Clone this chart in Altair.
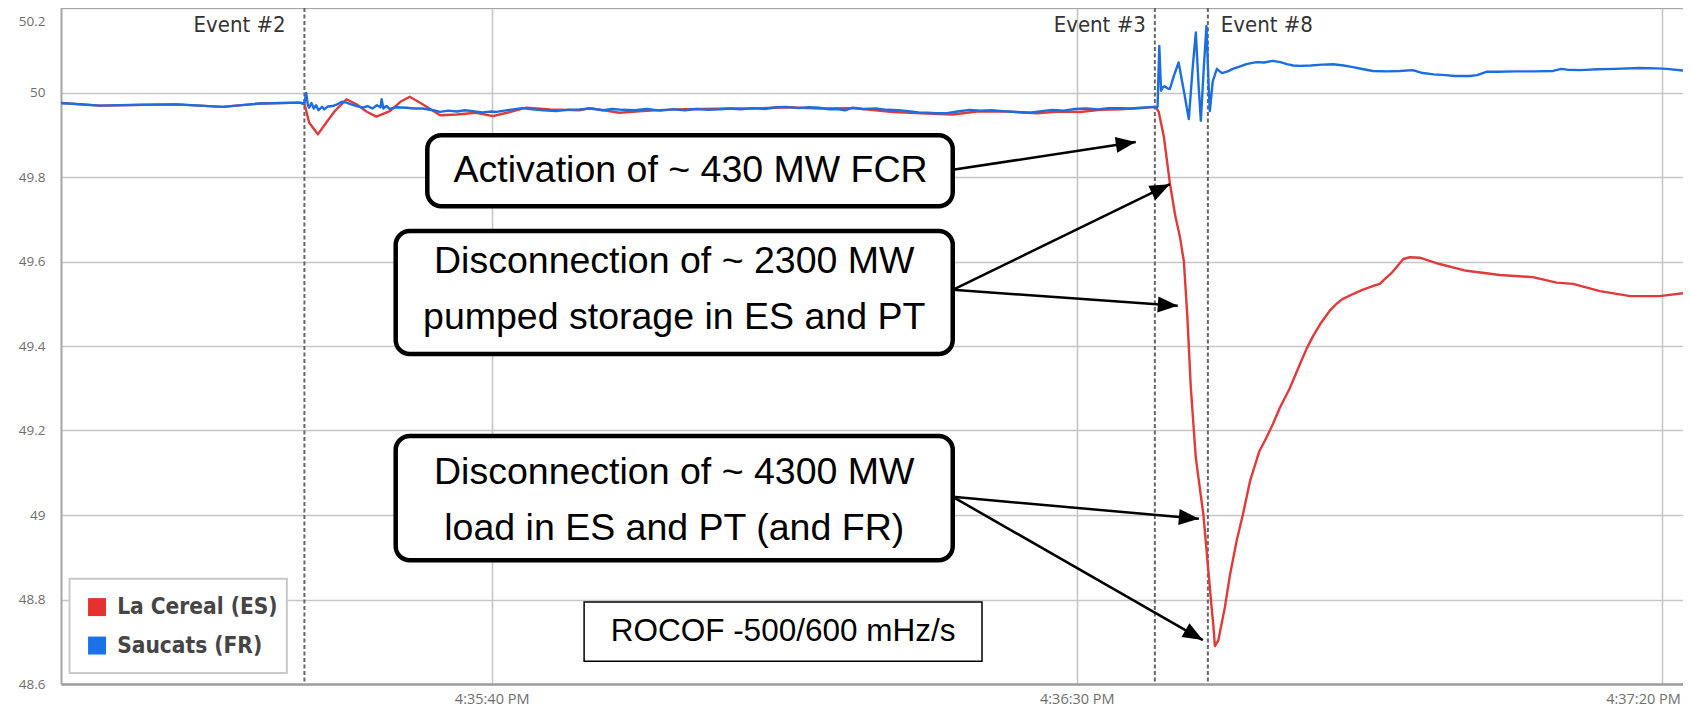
import math
import altair as alt
import pandas as pd

# ---------------- data (time = seconds after 4:35:00 PM, frequency in Hz) ----------------
SERIES = ["La Cereal (ES)", "Saucats (FR)"]
COLORS = ["#e03a3a", "#1c6ee0"]
LEGEND_COLORS = ["#e5322f", "#1a72e6"]

red_t = [3.2, 6.5, 13.1, 17.0, 20.2, 23.6, 24.0, 24.4, 25.15, 25.87, 26.6, 27.6, 28.45, 29.3,
         30.15, 31.3, 32.2, 33.0, 34.1, 35.6, 37.0, 38.7, 40.1, 41.3, 42.96, 45.0, 47.5, 48.4,
         50.9, 52.9, 55.5, 60.35, 62.3, 65.2, 68.0, 70.85, 74.3, 77.2, 79.4, 81.5, 84.0, 86.6,
         88.5, 90.26, 92.0, 93.7, 95.5, 96.75, 97.0, 97.44, 97.95, 98.4, 98.8, 99.15, 99.44,
         99.74, 100.17, 100.82, 101.28, 101.58, 101.65, 101.8, 102.08, 102.65, 103.1, 103.65,
         104.2, 104.8, 105.6, 106.2, 106.75, 107.35, 108.2, 109.06, 109.66, 110.2, 110.8, 111.6,
         112.2, 112.7, 113.6, 114.4, 115.3, 115.9, 116.15, 116.9, 117.6, 117.9, 118.46, 119.3,
         121.0, 123.3, 126.15, 128.97, 131.0, 132.4, 134.7, 137.3, 139.8, 141.8]
red_f = [49.975, 49.969, 49.972, 49.966, 49.974, 49.976, 49.974, 49.929, 49.901, 49.929, 49.956,
         49.984, 49.972, 49.955, 49.943, 49.956, 49.978, 49.990, 49.972, 49.946, 49.948, 49.952,
         49.944, 49.952, 49.964, 49.960, 49.958, 49.963, 49.952, 49.956, 49.960, 49.962, 49.962,
         49.965, 49.962, 49.963, 49.954, 49.950, 49.948, 49.955, 49.955, 49.951, 49.955, 49.954,
         49.959, 49.960, 49.963, 49.966, 49.954, 49.895, 49.786, 49.710, 49.660, 49.600, 49.473,
         49.303, 49.135, 49.000, 48.856, 48.763, 48.745, 48.690, 48.702, 48.781, 48.860, 48.938,
         49.002, 49.080, 49.151, 49.183, 49.215, 49.254, 49.300, 49.357, 49.395, 49.424, 49.452,
         49.483, 49.500, 49.511, 49.523, 49.533, 49.542, 49.547, 49.554, 49.573, 49.596, 49.606,
         49.610, 49.609, 49.594, 49.578, 49.568, 49.563, 49.550, 49.547, 49.530, 49.518, 49.518,
         49.525]

blue_t = [3.2, 6.5, 10.0, 13.1, 17.0, 20.2, 23.6, 23.9, 24.0, 24.15, 24.3, 24.4, 24.6, 24.8, 25.0,
          25.2, 25.5, 25.7, 26.0, 26.4, 26.8, 27.2, 27.6, 28.0, 28.45, 29.0, 29.4, 29.8, 30.2, 30.5,
          30.6, 30.75, 31.0, 31.3, 31.8, 32.7, 33.4, 34.1, 35.0, 35.6, 36.3, 37.0, 37.7, 38.4, 39.2,
          40.0, 40.4, 41.5, 42.6, 43.5, 44.4, 45.5, 46.5, 47.5, 48.4, 49.5, 50.3, 51.2, 52.2, 53.3,
          54.4, 55.5, 56.5, 57.5, 58.5, 59.5, 60.4, 61.3, 62.3, 63.3, 64.3, 65.2, 66.2, 67.1, 68.0,
          68.8, 69.5, 70.2, 70.85, 71.8, 72.8, 73.8, 74.8, 75.8, 76.5, 77.2, 78.0, 78.9, 79.8, 80.85,
          81.8, 82.7, 83.7, 84.8, 86.0, 87.0, 87.9, 88.9, 89.8, 90.85, 91.8, 92.7, 93.7, 94.6, 95.5,
          96.5, 96.75, 96.9, 97.05, 97.2, 97.35, 97.5, 97.75, 97.95, 98.3, 98.7, 99.2, 99.57, 99.9,
          100.17, 100.4, 100.6, 100.85, 101.08, 101.26, 101.37, 101.62, 101.97, 102.4, 102.9,
          103.33, 103.9, 104.5, 105.0, 105.4, 106.0, 106.75, 107.4, 107.95, 108.5, 109.06, 110.0,
          111.0, 111.9, 112.8, 113.6, 114.5, 115.3, 116.5, 117.6, 118.7, 119.57, 120.5, 121.5,
          122.3, 123.0, 123.6, 124.2, 125.0, 126.0, 127.5, 129.0, 130.7, 131.4, 131.9, 133.0,
          134.5, 136.0, 138.1, 139.5, 140.4, 141.8]
blue_f = [49.975, 49.969, 49.971, 49.972, 49.966, 49.974, 49.976, 49.973, 49.975, 49.999, 49.970,
          49.964, 49.975, 49.962, 49.970, 49.958, 49.966, 49.960, 49.967, 49.968, 49.972, 49.978,
          49.976, 49.972, 49.968, 49.964, 49.968, 49.962, 49.970, 49.965, 49.984, 49.962, 49.968,
          49.961, 49.965, 49.964, 49.962, 49.962, 49.958, 49.954, 49.957, 49.955, 49.958, 49.956,
          49.953, 49.955, 49.954, 49.959, 49.963, 49.960, 49.958, 49.956, 49.959, 49.960, 49.962,
          49.958, 49.961, 49.959, 49.958, 49.961, 49.957, 49.960, 49.958, 49.961, 49.959, 49.960,
          49.962, 49.960, 49.963, 49.961, 49.965, 49.966, 49.963, 49.965, 49.964, 49.960, 49.961,
          49.958, 49.964, 49.961, 49.962, 49.959, 49.958, 49.955, 49.953, 49.952, 49.951, 49.951,
          49.955, 49.959, 49.957, 49.958, 49.956, 49.954, 49.952, 49.956, 49.959, 49.957, 49.961,
          49.962, 49.960, 49.963, 49.963, 49.962, 49.964, 49.966, 49.964, 49.966, 50.110, 50.004,
          50.012, 50.015, 50.010, 50.008, 50.040, 50.071, 49.996, 49.937, 50.058, 50.142, 50.020,
          49.933, 50.058, 50.157, 50.020, 49.956, 50.027, 50.056, 50.046, 50.050, 50.056, 50.061,
          50.067, 50.070, 50.072, 50.071, 50.075, 50.072, 50.067, 50.064, 50.063, 50.064, 50.066,
          50.067, 50.064, 50.060, 50.055, 50.051, 50.050, 50.051, 50.053, 50.046, 50.043, 50.041,
          50.039, 50.039, 50.039, 50.041, 50.049, 50.049, 50.050, 50.050, 50.051, 50.056, 50.054,
          50.053, 50.055, 50.056, 50.058, 50.057, 50.056, 50.052]

x_tick_values = [40, 90, 140]
x_tick_labels = ["4:35:40 PM", "4:36:30 PM", "4:37:20 PM"]
y_tick_values = [48.6, 48.8, 49.0, 49.2, 49.4, 49.6, 49.8, 50.0, 50.2]

event_t = [24.0, 96.67, 101.2]
event_labels = ["Event #2", "Event #3", "Event #8"]
event_label_t = [22.4, 95.9, 102.3]
event_label_f = [50.16, 50.16, 50.16]
event_label_align = ["right", "right", "left"]

box_t1 = [34.5, 31.8, 31.8]
box_t2 = [79.4, 79.4, 79.4]
box_f1 = [49.899, 49.672, 49.187]
box_f2 = [49.731, 49.381, 48.893]

ann_text = ["Activation of ~ 430 MW FCR", "Disconnection of ~ 2300 MW", "pumped storage in ES and PT",
            "Disconnection of ~ 4300 MW", "load in ES and PT (and FR)"]
ann_t = [57.0, 55.6, 55.6, 55.6, 55.6]
ann_f = [49.815, 49.599, 49.466, 49.099, 48.967]

rocof_text = ["ROCOF -500/600 mHz/s"]
rocof_t1, rocof_t2, rocof_f1, rocof_f2 = [47.9], [81.9], [48.794], [48.654]
rocof_t, rocof_f = [64.9], [48.724]

arrow_t1 = [79.4, 79.4, 79.4, 79.4, 79.4]
arrow_f1 = [49.817, 49.533, 49.533, 49.043, 49.043]
arrow_t2 = [95.04, 97.95, 98.63, 100.43, 100.77]
arrow_f2 = [49.883, 49.783, 49.495, 48.991, 48.704]

# legend (drawn as annotation inside the plot)
legend_box_t = [3.93, 22.5]
legend_box_f = [48.849, 48.626]
legend_sym_t = [6.28, 6.28]
legend_sym_f = [48.782, 48.691]
legend_lab_t = [8.0, 8.0]

# ---------------- layout / styles ----------------
W, H = 1622, 676
XD = [3.2, 141.8]
YD = [48.6, 50.2]
COND = "DejaVu Sans Condensed, Roboto Condensed, Liberation Sans Narrow, Roboto"
SANS = "Liberation Sans, Arial, Helvetica"
ARROW = "M0,0 L0.8,2 L-0.8,2 Z"

xs = alt.Scale(domain=XD, nice=False, zero=False)
ys = alt.Scale(domain=YD, nice=False, zero=False)

label_expr = " : ".join(
    f"datum.value == {v} ? '{l}'" for v, l in zip(x_tick_values, x_tick_labels)
) + " : ''"

x_axis = alt.Axis(values=x_tick_values, labelExpr=label_expr, grid=True, gridColor="#c6c6c6",
                  gridWidth=1.6, domain=True, domainColor="#9e9e9e", domainWidth=2.5, ticks=False,
                  labelColor="#6e6e6e", labelFont="Open Sans", labelFontSize=14.5, labelPadding=8,
                  labelFlush=False,
                  labelOffset={"condition": {"test": f"datum.value >= {x_tick_values[-1]}",
                                             "value": -19},
                               "value": 0},
                  title=None)
y_axis = alt.Axis(values=y_tick_values, format=".1~f", grid=True, gridColor="#c6c6c6",
                  gridWidth=1.6, domain=True, domainColor="#a6a6a6", domainWidth=2, ticks=False,
                  labelColor="#6e6e6e", labelFont="Open Sans", labelFontSize=13.5, labelPadding=16,
                  labelFlush=False,
                  labelBaseline={"condition": {"test": "datum.value >= 50.19", "value": "top"},
                                 "value": "middle"},
                  labelOffset={"condition": {"test": "datum.value >= 50.19", "value": 6},
                               "value": 0},
                  title=None)


def X(f):
    return alt.X(f, type="quantitative", scale=xs, axis=x_axis, title=None)


def Y(f):
    return alt.Y(f, type="quantitative", scale=ys, axis=y_axis, title=None)


series_df = pd.DataFrame({
    "t": red_t + blue_t,
    "f": red_f + blue_f,
    "series": [SERIES[0]] * len(red_t) + [SERIES[1]] * len(blue_t),
})
event_df = pd.DataFrame({"t": event_t})
elabel_df = pd.DataFrame({"t": event_label_t, "f": event_label_f, "label": event_labels,
                          "align": event_label_align})
box_df = pd.DataFrame({"t1": box_t1, "t2": box_t2, "f1": box_f1, "f2": box_f2})
ann_df = pd.DataFrame({"t": ann_t, "f": ann_f, "label": ann_text})
rocof_box_df = pd.DataFrame({"t1": rocof_t1, "t2": rocof_t2, "f1": rocof_f1, "f2": rocof_f2})
rocof_df = pd.DataFrame({"t": rocof_t, "f": rocof_f, "label": rocof_text})
lbox_df = pd.DataFrame({"t1": [legend_box_t[0]], "t2": [legend_box_t[1]],
                        "f1": [legend_box_f[0]], "f2": [legend_box_f[1]]})
lsym_df = pd.DataFrame({"t": legend_sym_t, "f": legend_sym_f, "series": SERIES,
                        "lt": legend_lab_t})

pxt = W / (XD[1] - XD[0])
pxf = H / (YD[1] - YD[0])
angles = []
for a, b, c, d in zip(arrow_t1, arrow_f1, arrow_t2, arrow_f2):
    dx = (c - a) * pxt
    dy = -(d - b) * pxf
    angles.append(math.degrees(math.atan2(dx, -dy)) % 360)
arrow_df = pd.DataFrame({"t1": arrow_t1, "f1": arrow_f1, "t2": arrow_t2, "f2": arrow_f2,
                         "angle": angles})

stroke_scale = alt.Scale(domain=SERIES, range=COLORS)

border = alt.Chart(pd.DataFrame({"f": [YD[1]]})).mark_rule(color="#a6a6a6", strokeWidth=2).encode(
    y=Y("f"))

red_line = alt.Chart(series_df).transform_filter(alt.datum.series == SERIES[0]).mark_line(
    strokeWidth=2.4, strokeJoin="round").encode(
    x=X("t"), y=Y("f"), stroke=alt.Stroke("series:N", scale=stroke_scale, legend=None))
blue_line = alt.Chart(series_df).transform_filter(alt.datum.series == SERIES[1]).mark_line(
    strokeWidth=2.4, strokeJoin="round").encode(
    x=X("t"), y=Y("f"), stroke=alt.Stroke("series:N", scale=stroke_scale, legend=None))

legend_box = alt.Chart(lbox_df).mark_rect(fill="white", stroke="#c9c9c9", strokeWidth=2).encode(
    x=X("t1"), x2="t2", y=Y("f1"), y2="f2")
legend_sym = alt.Chart(lsym_df).mark_square(size=324, filled=True, opacity=1).encode(
    x=X("t"), y=Y("f"),
    color=alt.Color("series:N", scale=alt.Scale(domain=SERIES, range=LEGEND_COLORS), legend=None))
legend_lab = alt.Chart(lsym_df).mark_text(align="left", baseline="middle", font=COND, fontSize=22.5,
                                          fontWeight="bold", color="#454545").encode(
    x=X("lt"), y=Y("f"), text="series:N")

events = alt.Chart(event_df).mark_rule(color="#666666", strokeWidth=2, strokeDash=[4, 2.5]).encode(
    x=X("t"))

elabels_r = alt.Chart(elabel_df).transform_filter(alt.datum.align == "right").mark_text(
    align="right", baseline="middle", font=COND, fontSize=22, color="#333333").encode(
    x=X("t"), y=Y("f"), text="label:N")
elabels_l = alt.Chart(elabel_df).transform_filter(alt.datum.align == "left").mark_text(
    align="left", baseline="middle", font=COND, fontSize=22, color="#333333").encode(
    x=X("t"), y=Y("f"), text="label:N")

arrow_lines = alt.Chart(arrow_df).mark_rule(color="black", strokeWidth=2.5).encode(
    x=X("t1"), y=Y("f1"), x2="t2", y2="f2")
arrow_heads = alt.Chart(arrow_df).mark_point(shape=ARROW, filled=True, size=400, color="black",
                                             opacity=1, strokeWidth=0).encode(
    x=X("t2"), y=Y("f2"), angle=alt.Angle("angle:Q", scale=None))

boxes = alt.Chart(box_df).mark_rect(fill="white", stroke="black", strokeWidth=4.5,
                                    cornerRadius=14).encode(
    x=X("t1"), x2="t2", y=Y("f1"), y2="f2")
ann = alt.Chart(ann_df).mark_text(font=SANS, fontSize=37.5, color="black", baseline="middle",
                                  align="center").encode(x=X("t"), y=Y("f"), text="label:N")
rocof_box = alt.Chart(rocof_box_df).mark_rect(fill="white", stroke="black", strokeWidth=1.5).encode(
    x=X("t1"), x2="t2", y=Y("f1"), y2="f2")
rocof = alt.Chart(rocof_df).mark_text(font=SANS, fontSize=31.5, color="black", baseline="middle",
                                      align="center").encode(x=X("t"), y=Y("f"), text="label:N")

chart = alt.layer(
    border, legend_box, legend_sym, legend_lab, events, red_line, blue_line, arrow_lines, boxes,
    ann, rocof_box, rocof, arrow_heads, elabels_r, elabels_l
).properties(
    width=W, height=H,
    autosize=alt.AutoSizeParams(type="none"),
    padding={"left": 53, "top": 0, "right": 0, "bottom": 24},
).configure_view(stroke=None)

chart.save("out.html", embed_options={"renderer": "svg", "actions": False})
